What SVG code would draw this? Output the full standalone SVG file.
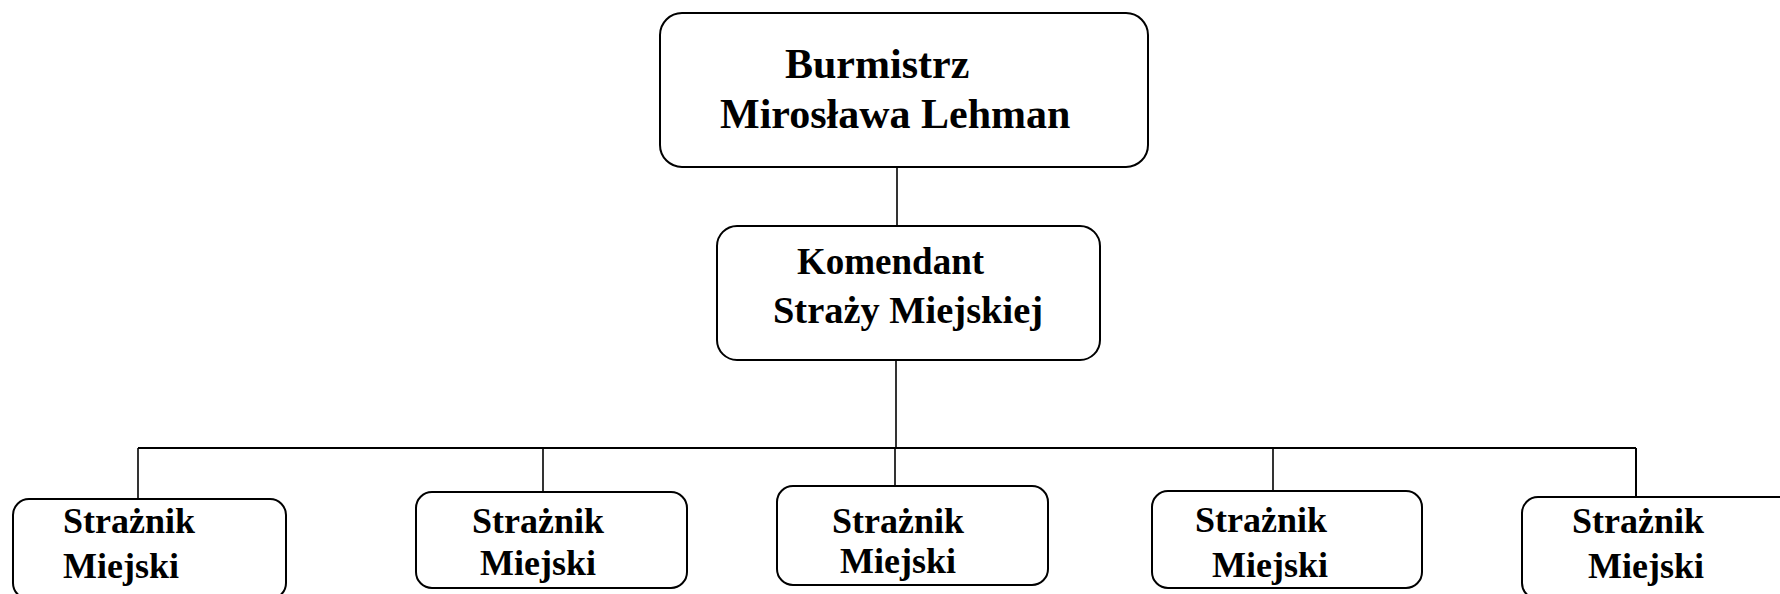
<svg xmlns="http://www.w3.org/2000/svg" width="1780" height="594" viewBox="0 0 1780 594">
<style>
.box{fill:#fff;stroke:#000;stroke-width:2}
.ln{stroke:#000;stroke-width:1.6;fill:none}
.t{font-family:"Liberation Serif","Times New Roman",serif;font-weight:bold;fill:#000}
.t1{font-size:42px}
.t2{font-size:37px}
.t3{font-size:36px}
</style>
<rect width="1780" height="594" fill="#fff"/>
<g id="connectors">
<line class="ln" x1="897" y1="167" x2="897" y2="227"/>
<line class="ln" x1="896" y1="360" x2="896" y2="448"/>
<line class="ln" x1="138" y1="448" x2="1636" y2="448" style="stroke-width:2"/>
<line class="ln" x1="138" y1="448" x2="138" y2="499"/>
<line class="ln" x1="543" y1="448" x2="543" y2="492"/>
<line class="ln" x1="895" y1="448" x2="895" y2="486"/>
<line class="ln" x1="1273" y1="448" x2="1273" y2="491"/>
<line class="ln" x1="1636" y1="448" x2="1636" y2="497" style="stroke-width:2"/>
</g>
<g id="burmistrz">
<rect class="box" x="660" y="13" width="488" height="154" rx="22"/>
<text class="t t1" x="785" y="78">Burmistrz</text>
<text class="t t1" x="720" y="128">Mirosława Lehman</text>
</g>
<g id="komendant">
<rect class="box" x="717" y="226" width="383" height="134" rx="20"/>
<text class="t t2" x="797" y="274">Komendant</text>
<text class="t t2" x="773" y="323" textLength="270" lengthAdjust="spacingAndGlyphs">Straży Miejskiej</text>
</g>
<g id="straznik1">
<rect class="box" x="13" y="499" width="273" height="100" rx="16"/>
<text class="t t3" x="63" y="533">Strażnik</text>
<text class="t t3" x="63" y="578">Miejski</text>
</g>
<g id="straznik2">
<rect class="box" x="416" y="492" width="271" height="96" rx="16"/>
<text class="t t3" x="472" y="533">Strażnik</text>
<text class="t t3" x="480" y="575">Miejski</text>
</g>
<g id="straznik3">
<rect class="box" x="777" y="486" width="271" height="99" rx="16"/>
<text class="t t3" x="832" y="533">Strażnik</text>
<text class="t t3" x="840" y="573">Miejski</text>
</g>
<g id="straznik4">
<rect class="box" x="1152" y="491" width="270" height="97" rx="16"/>
<text class="t t3" x="1195" y="532">Strażnik</text>
<text class="t t3" x="1212" y="577">Miejski</text>
</g>
<g id="straznik5">
<rect class="box" x="1522" y="497" width="290" height="102" rx="16"/>
<text class="t t3" x="1572" y="533">Strażnik</text>
<text class="t t3" x="1588" y="578">Miejski</text>
</g>
</svg>
